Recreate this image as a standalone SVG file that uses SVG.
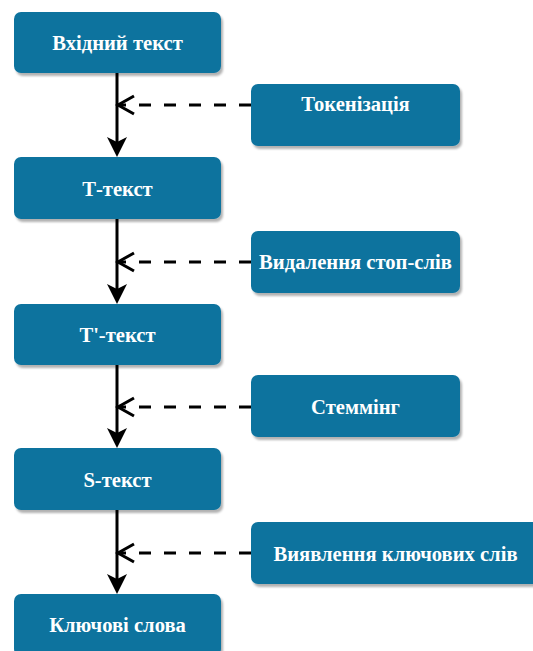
<svg xmlns="http://www.w3.org/2000/svg" width="533" height="651" viewBox="0 0 533 651">
<style>
.box{fill:#10739E;filter:url(#sh);}
.lbl{font-family:"Liberation Serif","Times New Roman",serif;font-weight:bold;font-size:20.6px;fill:#ffffff;text-anchor:middle;}
.flow{stroke:#000;stroke-width:3;fill:none;marker-end:url(#solid);}
.dash{stroke:#000;stroke-width:3;fill:none;stroke-dasharray:12 13;marker-end:url(#open);}
</style>
<defs>
<filter id="sh" x="-10%" y="-10%" width="130%" height="140%">
<feDropShadow dx="2" dy="3" stdDeviation="1.2" flood-color="#000" flood-opacity="0.3"/>
</filter>
<marker id="solid" markerUnits="userSpaceOnUse" markerWidth="22" markerHeight="22" refX="10" refY="10" orient="auto" overflow="visible">
<path d="M20,10 L0,0 L5,10 L0,20 Z" fill="#000"/>
</marker>
<marker id="open" markerUnits="userSpaceOnUse" markerWidth="22" markerHeight="22" refX="17" refY="10" orient="auto" overflow="visible">
<path d="M1,1 L17,10 L1,19" fill="none" stroke="#000" stroke-width="3"/>
</marker>
</defs>
<g id="connectors">
<line class="flow" x1="117" y1="73" x2="117" y2="147"/>
<line class="flow" x1="117" y1="219" x2="117" y2="294"/>
<line class="flow" x1="117" y1="365" x2="117" y2="438"/>
<line class="flow" x1="117" y1="510" x2="117" y2="584"/>
<line class="dash" x1="251" y1="105" x2="118" y2="105"/>
<line class="dash" x1="251" y1="262" x2="118" y2="262"/>
<line class="dash" x1="251" y1="407" x2="118" y2="407"/>
<line class="dash" x1="251" y1="553" x2="118" y2="553"/>
</g>
<g id="n-input"><rect class="box" x="14" y="12" width="207" height="61" rx="7"/><text class="lbl" x="117.5" y="49.5">Вхідний текст</text></g>
<g id="n-t"><rect class="box" x="14" y="157" width="207" height="62" rx="7"/><text class="lbl" x="117.5" y="195.5">Т-текст</text></g>
<g id="n-t2"><rect class="box" x="14" y="304" width="207" height="61" rx="7"/><text class="lbl" x="117.5" y="341.5">Т'-текст</text></g>
<g id="n-s"><rect class="box" x="14" y="448" width="207" height="62" rx="7"/><text class="lbl" x="117.5" y="486.5">S-текст</text></g>
<g id="n-keywords"><rect class="box" x="14" y="594" width="207" height="62" rx="7"/><text class="lbl" x="117.5" y="632">Ключові слова</text></g>
<g id="n-token"><rect class="box" x="251" y="84" width="209" height="62" rx="7"/><text class="lbl" x="355.5" y="110.5">Токенізація</text></g>
<g id="n-stop"><rect class="box" x="251" y="231" width="209" height="62" rx="7"/><text class="lbl" x="355.5" y="269">Видалення стоп-слів</text></g>
<g id="n-stem"><rect class="box" x="251" y="375" width="209" height="62" rx="7"/><text class="lbl" x="355.5" y="413.5">Стеммінг</text></g>
<g id="n-detect"><rect class="box" x="251" y="522" width="289" height="62" rx="7"/><text class="lbl" x="395.5" y="560.5">Виявлення ключових слів</text></g>
</svg>
